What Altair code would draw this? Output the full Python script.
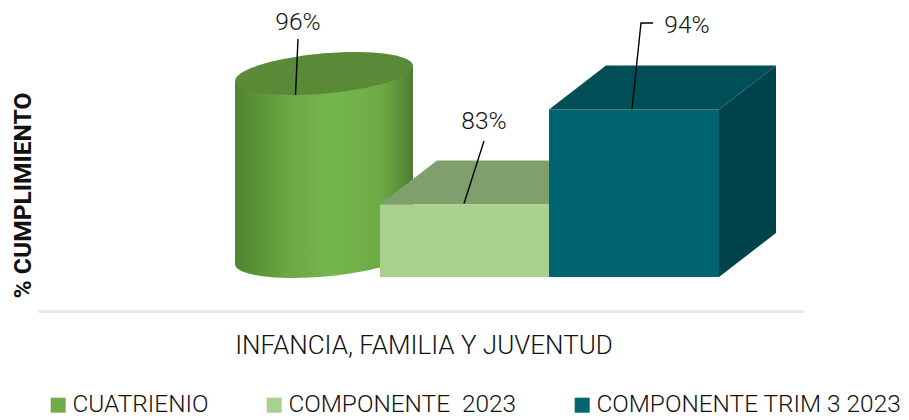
import altair as alt
import numpy as np
import pandas as pd

series = ["CUATRIENIO", "COMPONENTE \u00a02023", "COMPONENTE TRIM 3 2023"]
values = [96, 83, 94]
labels = ["96%", "83%", "94%"]
colors = ["#70AD47", "#A9D18E", "#006570"]
top_colors = ["#5A8A38", "#7FA06C", "#004F57"]
side_color = "#00434A"

# axis calibration: percent value <-> plot height
BASE = 74.6        # value at the foot of the columns
UNIT = 8.636       # pixels per percentage point
PLOT_W, PLOT_H = 766, 303
Y0 = 70.66
Y1 = Y0 + PLOT_H / UNIT
DX, DV = 57, 44 / UNIT   # 3D depth
FONT = "Roboto"

xs = alt.Scale(domain=[0, PLOT_W], nice=False, zero=False)
ys = alt.Scale(domain=[Y0, Y1], nice=False, zero=False)

x_axis = alt.Axis(
    title="INFANCIA, FAMILIA Y JUVENTUD", labels=False, ticks=False, grid=False,
    domainColor="#E9E9E9", domainWidth=3,
    titleFont=FONT, titleFontSize=26, titleFontWeight=300, titleColor="#111111",
    titleX=385.5, titleY=34, titleAlign="center", titleBaseline="middle",
)
y_axis = alt.Axis(
    title="% CUMPLIMIENTO", labels=False, ticks=False, grid=False, domain=False,
    titleFont=FONT, titleFontSize=24.6, titleFontWeight="bold", titleColor="#111111",
    titleX=-15, titleY=187, titleAlign="center", titleBaseline="middle", titleAngle=270,
)


def X(name="x"):
    return alt.X(f"{name}:Q", scale=xs, axis=x_axis)


def Y(name="y"):
    return alt.Y(f"{name}:Q", scale=ys, axis=y_axis)


def fv(px):
    """value at a pixel height measured from the foot level of the reference."""
    return BASE + (277 - px) / UNIT


# cylinder
cx, a, shear, b = 286, 89, 7.5, 20.1
u = np.cos(np.linspace(np.pi, 0, 61))
root = np.sqrt(1 - u ** 2)
top_mid = fv(73.5) + (shear * u) / UNIT
bot_mid = top_mid - 183 / UNIT
cyl = pd.DataFrame({
    "x": cx + a * u,
    "y": top_mid,
    "y2": bot_mid - b * root / UNIT,
    "ty": top_mid + b * root / UNIT,
    "ty2": top_mid - b * root / UNIT,
})
gradient = alt.Gradient(
    gradient="linear", x1=0, x2=1, y1=0, y2=0,
    stops=[
        alt.GradientStop(offset=0.0, color="#4F8430"),
        alt.GradientStop(offset=0.14, color="#5C9638"),
        alt.GradientStop(offset=0.30, color="#6BA843"),
        alt.GradientStop(offset=0.55, color="#75B74C"),
        alt.GradientStop(offset=0.82, color="#6DAB45"),
        alt.GradientStop(offset=0.93, color="#5B8F39"),
        alt.GradientStop(offset=1.0, color="#4C7C2E"),
    ],
)
cyl_body = alt.Chart(cyl).mark_area(color=gradient).encode(X(), Y(), y2="y2:Q")
cyl_top = alt.Chart(cyl).mark_area(color=top_colors[0]).encode(X(), Y("ty"), y2="ty2:Q")

# boxes
box_x = [342, 511]
box_w = [169, 170]


def box_top(i):
    v = values[i + 1]
    x0, w = box_x[i], box_w[i]
    df = pd.DataFrame({
        "x": [x0, x0 + DX, x0 + w, x0 + w + DX],
        "y": [v, v + DV, v + DV, v + DV],
        "y2": [v, v, v, v + DV],
    })
    return alt.Chart(df).mark_area(color=top_colors[i + 1]).encode(X(), Y(), y2="y2:Q")


def box_side(i):
    v = values[i + 1]
    x0 = box_x[i] + box_w[i]
    df = pd.DataFrame({
        "x": [x0, x0 + DX],
        "y": [v, v + DV],
        "y2": [BASE, BASE + DV],
    })
    return alt.Chart(df).mark_area(color=side_color).encode(X(), Y(), y2="y2:Q")


front = pd.DataFrame({
    "serie": series[1:],
    "x": box_x,
    "x2": [bx + w for bx, w in zip(box_x, box_w)],
    "y": values[1:],
    "y2": [BASE, BASE],
})
fronts = alt.Chart(front).mark_rect().encode(
    x=X(), x2="x2:Q", y=Y(), y2="y2:Q",
    color=alt.Color(
        "serie:N",
        scale=alt.Scale(domain=series, range=colors),
        sort=series,
        legend=alt.Legend(
            title=None, orient="none", legendX=8, legendY=385,
            direction="horizontal", columns=3, columnPadding=53,
            gridAlign="none", symbolType="square", symbolSize=225,
            symbolStrokeWidth=0, labelFont=FONT, labelFontSize=24.4,
            labelFontWeight=300, labelColor="#111111", labelOffset=2,
            labelLimit=400, padding=0,
        ),
    ),
)

# leader lines
lead_rows = [
    ("a", 0, 260, fv(39)), ("a", 1, 257.5, fv(95)),
    ("b", 0, 446, fv(141)), ("b", 1, 426, fv(203.5)),
    ("c", 0, 615, fv(23)), ("c", 1, 603, fv(23)), ("c", 2, 594, fv(109)),
]
leaders = alt.Chart(pd.DataFrame(lead_rows, columns=["g", "o", "x", "y"])).mark_line(
    color="#000000", strokeWidth=1.4
).encode(X(), Y(), detail="g:N", order="o:Q")

label_df = pd.DataFrame({
    "t": labels,
    "x": [260, 446, 649],
    "y": [fv(23.5), fv(122), fv(26)],
})
texts = alt.Chart(label_df).mark_text(
    font=FONT, fontSize=24.5, fontWeight=300, color="#111111", align="center", baseline="middle"
).encode(X(), Y(), text="t:N")

chart = alt.layer(
    cyl_body, cyl_top, box_top(0), fronts, box_top(1), box_side(1), leaders, texts
).properties(
    width=PLOT_W, height=PLOT_H,
    autosize=alt.AutoSizeParams(type="none"),
    padding={"left": 30, "top": 0, "right": 97, "bottom": 108},
).configure_view(stroke=None)

chart.save("out.html", embed_options={"renderer": "svg", "actions": False})
